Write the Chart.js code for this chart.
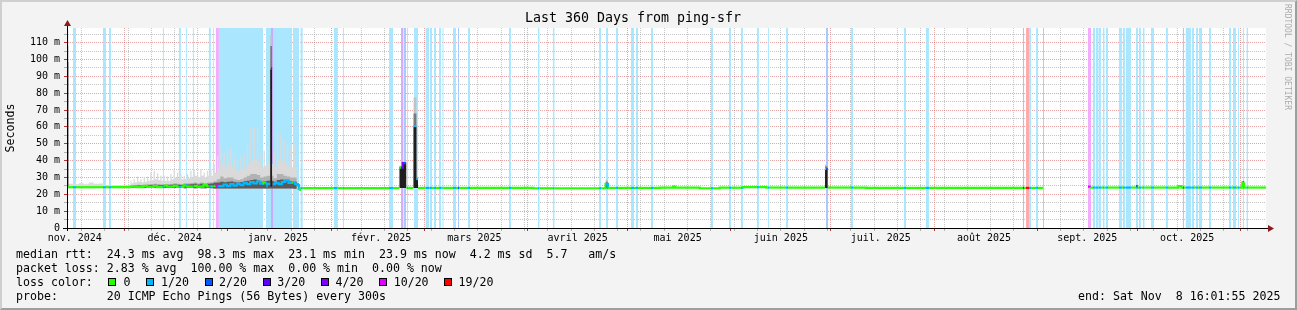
<!DOCTYPE html>
<html><head><meta charset="utf-8">
<script src="https://cdn.jsdelivr.net/npm/chart.js@4.4.1/dist/chart.umd.min.js"></script>
<style>
html,body{margin:0;padding:0;background:#f3f3f3;}
#root{position:relative;width:1297px;height:310px;overflow:hidden;background:#f3f3f3;}
#frame{position:absolute;left:0;top:0;width:1297px;height:310px;box-sizing:border-box;border-top:2px solid #cfcfcf;border-left:2px solid #cfcfcf;border-right:2px solid #9e9e9e;border-bottom:2px solid #9e9e9e;}
canvas{position:absolute;left:0;top:0;}
.t{position:absolute;font-family:'DejaVu Sans Mono',monospace;font-size:11.6px;line-height:14px;white-space:pre;color:#000;}
.box{position:absolute;width:8px;height:8px;border:1px solid #000;box-sizing:border-box;}
#wm{position:absolute;left:1283px;top:4px;writing-mode:vertical-rl;font-family:'DejaVu Sans Mono',monospace;font-size:8px;line-height:9px;color:#acacac;white-space:pre;}
</style></head><body>
<div id="root">
<div id="frame"></div>
<canvas id="c" width="1297" height="310"></canvas>
<div id="legend"></div>
<div id="wm">RRDTOOL / TOBI OETIKER</div>
</div>
<script>
// ---------------- DATA ----------------
const titleText = 'Last 360 Days from ping-sfr';
const X_MAX = 360;           // days covered
const Y_MAX = 118.7;         // ms
const monthLabels = ['nov. 2024','déc. 2024','janv. 2025','févr. 2025','mars 2025','avril 2025','mai 2025','juin 2025','juil. 2025','août 2025','sept. 2025','oct. 2025'];
const yLabelValues = [0,10,20,30,40,50,60,70,80,90,100,110];
const yLabels = ['0','10 m','20 m','30 m','40 m','50 m','60 m','70 m','80 m','90 m','100 m','110 m'];

// packet-loss periods (days from start) and loss level (x/20)
const lossStart = [0,1.8,10.8,12.6,28.8,33.6,35.7,37.8,42.6,43.8,44.7,45.6,59.75,61.25,61.85,67.85,70.15,80.15,82.85,96.7,100.3,101.0,102.1,104.2,107.7,109.0,110.2,111.7,112.75,115.9,117.4,120.4,132.7,141.4,145.9,159.75,161.85,164.85,169.35,170.85,175.35,193.35,198.75,202.35,207.15,210.45,215.9,227.9,235.4,251.3,257.9,287.05,287.95,288.85,290.95,293.05,306.55,308.05,308.95,309.7,311.05,311.95,315.85,317.05,317.95,320.95,321.85,323.05,325.45,329.95,335.05,335.9,337.8,339.0,339.9,342.9,348.9,350.1,351.6,353.1,354.2];
const lossEnd   = [0.3,2.7,11.7,13.2,29.1,34.2,36.0,38.1,43.2,44.1,45.6,58.85,61.25,61.85,67.55,69.65,70.75,81.2,83.15,97.9,100.9,101.8,102.4,105.4,108.7,109.6,110.8,112.3,113.05,116.8,117.7,121.0,133.3,141.85,146.35,160.35,162.45,165.45,170.25,171.45,175.95,193.95,199.35,202.95,207.75,210.75,216.5,228.5,236.0,251.9,258.8,287.35,288.85,289.45,291.55,293.35,307.45,308.65,309.55,310.45,311.5,312.55,316.75,317.65,319.45,321.55,322.45,323.5,326.35,330.55,335.35,337.45,338.4,339.6,340.8,343.5,349.5,351.0,351.9,353.4,354.6];
const lossLevel = [10,1,1,1,1,1,1,1,1,1,10,1,1,3,1,1,1,1,1,1,4,2,1,1,1,1,1,1,1,1,2,1,1,1,1,1,1,1,1,1,1,1,1,1,1,1,1,2,1,1,1,4,19,1,1,10,10,1,1,1,1,1,1,1,1,1,1,1,1,1,4,1,1,1,1,1,1,1,1,1,1];

// median rtt (ms), each value holds from medDay[i] until the next day listed
const medDay = [0,0.3,19,21,23,24,26,27,29,30,32,33,35,36,38,39,41,42,44,44.7,45.6,47,48,49,50,51,52,53,54,55,56,57,58,59,60,61.0,61.6,62.5,63.5,64.5,65.5,66.5,67.5,68.5,69.3,69.6,69.9,99.8,100.8,101.9,104.0,104.9,105.4,140,161.7,162.4,178,182,182.6,190,196,203,210,227.6,228.4,240,293.05,306.55,307.45,333.7,334.6,352.9,353.5];
const medVal = [98.3,24.2,24.6,24.3,25.0,24.4,24.8,24.2,25.2,24.5,25.0,24.4,25.3,24.6,25.0,24.5,25.4,24.7,25.0,25.2,24.8,25.8,24.9,26.0,25.2,26.2,25.5,26.6,26.0,27.2,26.5,27.6,26.3,27.0,26.2,94.7,26.0,26.8,26.0,27.3,28.3,26.7,27.0,26.0,25.5,22.6,23.7,35.8,38.5,23.8,60.5,29.0,23.8,23.6,26.2,23.8,24.0,24.6,24.0,23.6,23.9,24.2,24.0,35.0,24.0,23.8,null,24.5,24.0,24.8,24.0,27.0,24.0];

// daily smoke (ms) for days 19..68: daily peak, base, mid band, dark band, floor
const smokeDay0 = 19;
const smokeHi   = [28,29,30.5,29,30,30.5,33,34,32.5,31,31,30.5,32,35,33,32,31,32,34,35,33,35,33,34,35,38,42.8,48,44,48,48,42,40,42,44,50,60,60,59,44,46,48,40,45,57,56,52,50,48,50];
const smokeBase = [26.5,27,27.5,27,27.5,28,28.5,29,28.5,28,28,28,29,30,29.5,29,29,29.5,30,31,30,31,30,31,31,33,35,38,36,38,37,35,34,35,36,38,40,40,39,36,37,38,38,36,40,40,38,37,36,36];
const smokeMid  = [25.3,25.5,25.7,25.5,25.7,25.9,26.1,26.3,26.1,25.9,26.1,26.1,26.3,26.5,26.3,26.1,26.5,26.5,26.7,27,26.5,27,26.7,27,27.2,27.8,29,30.5,29.5,30,30,29,28.5,29,30,31,32,32,31.5,30,30.5,31,31,29.5,32,32,31,30.5,30,30];
const smokeDark = [24.8,25,25.2,25,25.2,25.3,25.5,25.6,25.4,25.3,25.5,25.5,25.6,25.8,25.6,25.5,25.8,25.8,26,26.2,25.8,26.2,26,26.2,26.4,26.8,27,27.5,27.2,27.5,27.6,27.2,27,27.3,27.8,28,28.5,28.8,28.2,27.5,27.8,28,28,27.5,28.5,28.8,28.2,28,27.6,27.5];
const smokeLo   = [23.9,23.9,23.8,23.9,23.8,23.8,23.7,23.8,23.8,23.7,23.8,23.8,23.7,23.7,23.8,23.7,23.6,23.7,23.7,23.6,23.7,23.6,23.6,23.7,23.6,23.5,23.4,23.4,23.5,23.4,23.4,23.5,23.4,23.4,23.5,23.4,23.4,23.5,23.4,23.4,23.5,23.4,23.4,23.5,23.4,23.4,23.5,23.4,23.4,23.3];

// faint smoke at the start of the period
const lowStart = [0.35,2.0,3.5,5.0,6.5,8.0,9.5,11.0];
const lowEnd   = [2.0,3.5,5.0,6.5,8.0,9.5,11.0,19.0];
const lowLo    = [23.6,23.6,23.6,23.6,23.6,23.6,23.6,23.6];
const lowHi    = [26.2,26.0,26.5,26.0,27.0,26.2,26.4,25.3];

// latency spikes
const spikeStart = [0,61.0,99.8,100.8,104.0,104.9,161.7,227.6,320.9,352.9];
const spikeEnd   = [0.45,61.6,100.8,101.9,104.9,105.4,162.4,228.4,321.5,353.5];
const spikeLo    = [24.0,24.5,23.8,23.8,23.8,23.8,23.8,23.8,23.8,23.8];
const spikeDark  = [98.3,94.0,36.0,38.8,60.0,28.5,26.3,35.5,25.2,27.6];
const spikeMid   = [108,108,36.5,39.2,68.0,29.5,27.5,36.5,25.4,27.8];
const spikeHi    = [118,114.4,37.0,39.6,77.5,30.5,28.6,37.5,25.6,28.0];

// legend
const lossLevels = [0,1,2,3,4,10,19];
const lossLabels = ['0','1/20','2/20','3/20','4/20','10/20','19/20'];
const statsRtt  = 'median rtt:  24.3 ms avg  98.3 ms max  23.1 ms min  23.9 ms now  4.2 ms sd  5.7   am/s';
const statsLoss = 'packet loss: 2.83 % avg  100.00 % max  0.00 % min  0.00 % now';
const probeText = 'probe:       20 ICMP Echo Pings (56 Bytes) every 300s';
const endText   = 'end: Sat Nov  8 16:01:55 2025';

// ---------------- STYLE ----------------
const LOSS_COLOR = {0:'#26ff00',1:'#00b8ff',2:'#0059ff',3:'#5e00ff',4:'#7e00ff',10:'#dd00ff',19:'#ff0000'};
const LOSS_BG = {1:'rgb(170,231,255)',2:'rgb(170,200,255)',3:'rgb(201,170,255)',4:'rgb(212,170,255)',10:'rgb(244,170,255)',19:'rgb(255,170,170)'};
const RED_GRID = 'rgba(200,50,50,0.45)';
const GRAY_GRID = 'rgba(140,140,140,0.5)';
const MONO = "'DejaVu Sans Mono', monospace";

// ---------------- TIME AXIS ----------------
const START = Date.UTC(2024,10,13,16,1,55);
const DAY = 86400000;
const toDay = t => (t - START) / DAY;
const tickMap = new Map();
function addTick(v, kind, txt) {
  if (v < 0 || v > X_MAX) return;
  const k = v.toFixed(4);
  const t = tickMap.get(k) || {value: v, kind: null, txt: ''};
  if (kind === 'month' || (kind === 'week' && t.kind !== 'month')) t.kind = kind;
  if (txt) t.txt = txt;
  tickMap.set(k, t);
}
for (let m = 0; m <= 12; m++) addTick(toDay(Date.UTC(2024, 10 + m, 1)), 'month');
for (let t = Date.UTC(2024,10,18); toDay(t) < X_MAX; t += 7 * DAY) addTick(toDay(t), 'week');
monthLabels.forEach((lab, m) => addTick(toDay(Date.UTC(2024, 10 + m, 16)), null, lab));
const xTicks = Array.from(tickMap.values()).sort((a,b) => a.value - b.value);
const yGridVals = [];
for (let v = 0; v < Y_MAX; v += 5) yGridVals.push(v);

// ---------------- DATASETS ----------------
function lossAt(d) {
  for (let i = 0; i < lossStart.length; i++) if (d >= lossStart[i] && d < lossEnd[i]) return lossLevel[i];
  return 0;
}
function colsToPts(starts, ends, vals) {
  const pts = [];
  for (let i = 0; i < starts.length; i++) {
    pts.push({x: starts[i], y: vals[i]}, {x: ends[i], y: vals[i]});
    if (i < starts.length - 1 && starts[i+1] > ends[i] + 1e-6) pts.push({x: ends[i], y: null});
  }
  return pts;
}
const datasets = [];
const baseDs = {pointRadius: 0, borderWidth: 0, borderColor: 'rgba(0,0,0,0)', stepped: true, fill: false};

// loss background
[1,2,3,4,10,19].forEach(lvl => {
  const pts = [];
  lossStart.forEach((s, i) => {
    if (lossLevel[i] !== lvl) return;
    pts.push({x: s, y: 0}, {x: s, y: Y_MAX}, {x: lossEnd[i], y: Y_MAX}, {x: lossEnd[i], y: 0});
  });
  datasets.push(Object.assign({}, baseDs, {data: pts, fill: 'origin', backgroundColor: LOSS_BG[lvl], order: 50}));
});

function addSmoke(starts, ends, lo, layers) {
  const idx = datasets.length;
  datasets.push(Object.assign({}, baseDs, {data: colsToPts(starts, ends, lo), order: 60}));
  layers.forEach(L => datasets.push(Object.assign({}, baseDs, {data: colsToPts(starts, ends, L.vals), fill: idx, backgroundColor: L.color, order: L.order})));
}
// daily smoke: each day = narrow peak column + wider base column
{
  const st = [], en = [], lo = [], a = [], b = [], c = [];
  smokeHi.forEach((h, k) => {
    const d = smokeDay0 + k;
    st.push(d, d + 0.4); en.push(d + 0.4, d + 1);
    lo.push(smokeLo[k], smokeLo[k]); a.push(h, smokeBase[k]);
    b.push(smokeMid[k], smokeMid[k]); c.push(smokeDark[k], smokeDark[k]);
  });
  addSmoke(st, en, lo, [{vals: a, color: '#dadada', order: 30}, {vals: b, color: '#b2b2b2', order: 29}, {vals: c, color: '#5a5a5a', order: 28}]);
}
addSmoke(lowStart, lowEnd, lowLo, [{vals: lowHi, color: '#dcdcdc', order: 30}]);
addSmoke(spikeStart, spikeEnd, spikeLo, [{vals: spikeHi, color: '#c2c2c2', order: 20}, {vals: spikeMid, color: '#7a7a7a', order: 19}, {vals: spikeDark, color: '#1e1e1e', order: 18}]);

// median line, split where the loss level changes
{
  const cuts = Array.from(new Set([...medDay, ...lossStart, ...lossEnd, X_MAX])).filter(d => d >= 0 && d <= X_MAX).sort((a,b) => a-b);
  const medAt = d => { let v = null; for (let i = 0; i < medDay.length; i++) { if (medDay[i] <= d + 1e-9) v = medVal[i]; else break; } return v; };
  const pts = [];
  for (let j = 0; j < cuts.length - 1; j++) {
    const v = medAt(cuts[j]);
    if (v === null) { pts.push({x: cuts[j], y: null}); continue; }
    pts.push({x: cuts[j], y: v}, {x: cuts[j+1], y: v});
  }
  datasets.push({data: pts, pointRadius: 0, borderWidth: 2.2, fill: false, tension: 0, order: 0,
    borderColor: LOSS_COLOR[0], borderCapStyle: 'butt',
    segment: {borderColor: ctx => {
      const p0 = ctx.p0.parsed, p1 = ctx.p1.parsed;
      if (Math.abs(p1.x - p0.x) < 1e-9 && Math.abs(p1.y - p0.y) > 3) return 'rgba(0,0,0,0)';
      return LOSS_COLOR[lossAt((p0.x + p1.x) / 2)];
    }}});
}

// ---------------- PLUGINS ----------------
const canvasBg = {id: 'canvasBg', beforeDraw(chart) {
  const {ctx, chartArea: a} = chart;
  ctx.save(); ctx.fillStyle = '#ffffff'; ctx.fillRect(a.left, a.top, a.right - a.left, a.bottom - a.top); ctx.restore();
}};
const axisArrows = {id: 'axisArrows', afterDraw(chart) {
  const {ctx, chartArea: a} = chart;
  const yb = a.bottom + 0.5, xl = a.left + 0.5;
  ctx.save();
  ctx.strokeStyle = '#000'; ctx.lineWidth = 1;
  ctx.beginPath();
  ctx.moveTo(a.left - 4, yb); ctx.lineTo(a.right + 2, yb);
  ctx.moveTo(xl, a.bottom + 3); ctx.lineTo(xl, a.top - 2);
  ctx.stroke();
  ctx.fillStyle = '#8b1a1a';
  ctx.beginPath(); ctx.moveTo(a.right + 8, yb); ctx.lineTo(a.right + 2, yb - 3.5); ctx.lineTo(a.right + 2, yb + 3.5); ctx.closePath(); ctx.fill();
  ctx.beginPath(); ctx.moveTo(xl, a.top - 8); ctx.lineTo(xl - 3.5, a.top - 2); ctx.lineTo(xl + 3.5, a.top - 2); ctx.closePath(); ctx.fill();
  ctx.restore();
}};

// ---------------- CHART ----------------
Chart.defaults.font.family = MONO;
Chart.defaults.color = '#000';
new Chart(document.getElementById('c'), {
  type: 'line',
  data: {datasets},
  plugins: [canvasBg, axisArrows],
  options: {
    responsive: false, animation: false, devicePixelRatio: 1,
    layout: {padding: {left: 0, right: 31, top: 0, bottom: 0}},
    plugins: {
      legend: {display: false}, tooltip: {enabled: false},
      title: {display: true, text: titleText, color: '#000', font: {family: MONO, size: 13.3, weight: 'normal'}, padding: {top: 11, bottom: 1}}
    },
    scales: {
      x: {
        type: 'linear', min: 0, max: X_MAX,
        afterBuildTicks: s => { s.ticks = xTicks.map(t => ({value: t.value, kind: t.kind, txt: t.txt})); },
        afterFit: s => { s.height = 82; },
        ticks: {autoSkip: false, maxRotation: 0, minRotation: 0, padding: 1, color: '#000', font: {size: 10},
          callback: function(v, i, ticks) { return ticks[i] ? ticks[i].txt : ''; }},
        grid: {lineWidth: 1, tickLength: 3,
          color: c => c.tick && c.tick.kind === 'month' ? RED_GRID : (c.tick && c.tick.kind === 'week' ? GRAY_GRID : 'rgba(0,0,0,0)'),
          tickColor: c => c.tick && c.tick.kind === 'month' ? '#c03030' : (c.tick && c.tick.kind === 'week' ? '#b0b0b0' : 'rgba(0,0,0,0)')},
        border: {display: true, color: '#000', width: 1, dash: [1,1]}
      },
      y: {
        type: 'linear', min: 0, max: Y_MAX,
        afterBuildTicks: s => { s.ticks = yGridVals.map(v => ({value: v})); },
        afterFit: s => { s.width = 67; },
        ticks: {autoSkip: false, padding: 4, color: '#000', font: {size: 10},
          callback: v => { const i = yLabelValues.indexOf(v); return i >= 0 ? yLabels[i] : ''; }},
        grid: {lineWidth: 1, tickLength: 3,
          color: c => (c.tick && c.tick.value % 10 === 0) ? RED_GRID : GRAY_GRID,
          tickColor: c => (c.tick && c.tick.value % 10 === 0) ? '#c03030' : '#b0b0b0'},
        border: {display: true, color: '#000', width: 1, dash: [1,1]},
        title: {display: true, text: 'Seconds', color: '#000', font: {family: MONO, size: 11.6}, padding: {top: 4, bottom: 0}}
      }
    }
  }
});

// ---------------- TEXT LEGEND ----------------
const leg = document.getElementById('legend');
function addText(txt, left, top) { const d = document.createElement('div'); d.className = 't'; d.textContent = txt; d.style.left = left + 'px'; d.style.top = top + 'px'; leg.appendChild(d); }
addText(statsRtt, 16, 247);
addText(statsLoss, 16, 261);
addText('loss color:', 16, 275);
addText(probeText, 16, 289);
addText(endText, 1078, 289);
const boxX = [108, 146.4, 204.6, 262.8, 321, 379.2, 444];
const labX = [123.5, 161, 219, 277.3, 335.5, 393.7, 458.5];
lossLevels.forEach((lvl, i) => {
  const b = document.createElement('div'); b.className = 'box';
  b.style.left = boxX[i] + 'px'; b.style.top = '278px'; b.style.background = LOSS_COLOR[lvl];
  leg.appendChild(b);
  addText(lossLabels[i], labX[i], 275);
});
</script>
</body></html>
